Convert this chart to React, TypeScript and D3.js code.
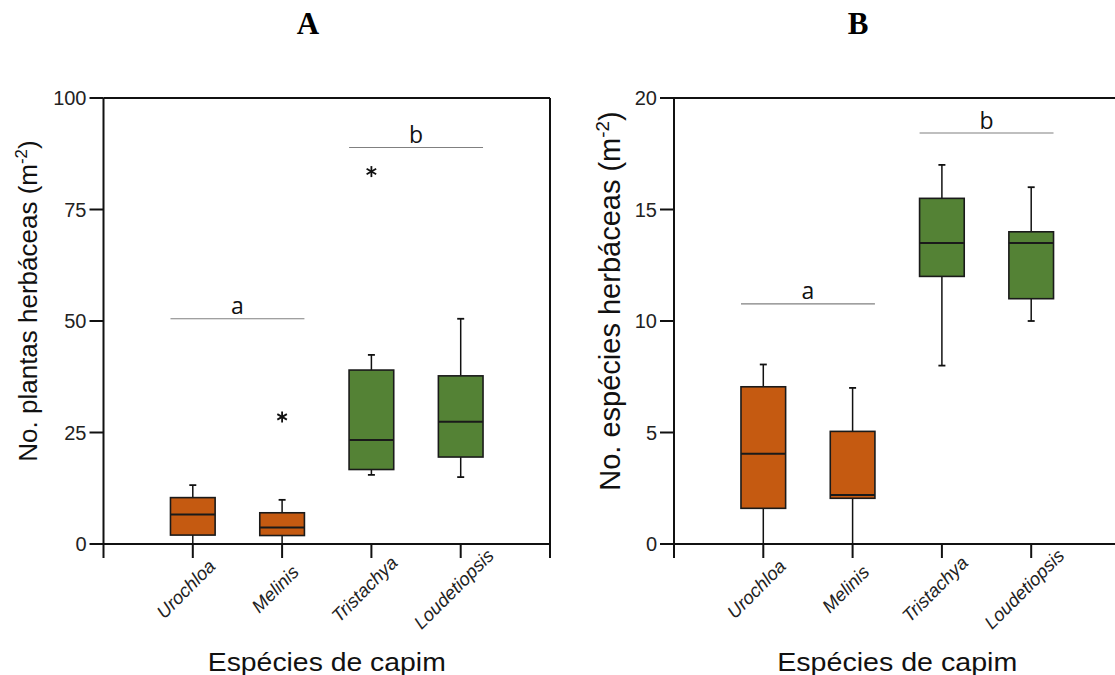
import React from "react";
import * as d3 from "d3";

const categories = ["Urochloa", "Melinis", "Tristachya", "Loudetiopsis"];
const boxColors = ["#C55A11", "#C55A11", "#548235", "#548235"];

// Panel A: No. plantas herbáceas
const plantsWhiskerLow = [0, 0, 15.5, 15.0];
const plantsQ1 = [2.0, 1.9, 16.7, 19.5];
const plantsMedian = [6.6, 3.7, 23.3, 27.4];
const plantsQ3 = [10.4, 7.0, 39.0, 37.7];
const plantsWhiskerHigh = [13.2, 9.9, 42.4, 50.5];
const plantsOutliers = [[], [28.5], [83.5], []];
const plantsTicks = [0, 25, 50, 75, 100];
const plantsSig = [
  { label: "a", from: 0, to: 1, y: 50.5 },
  { label: "b", from: 2, to: 3, y: 88.9 },
];

// Panel B: No. espécies herbáceas
const speciesWhiskerLow = [0, 0, 8, 10];
const speciesQ1 = [1.6, 2.05, 12, 11];
const speciesMedian = [4.05, 2.2, 13.5, 13.5];
const speciesQ3 = [7.05, 5.05, 15.5, 14];
const speciesWhiskerHigh = [8.05, 7.0, 17, 16];
const speciesOutliers = [[], [], [], []];
const speciesTicks = [0, 5, 10, 15, 20];
const speciesSig = [
  { label: "a", from: 0, to: 1, y: 10.77 },
  { label: "b", from: 2, to: 3, y: 18.43 },
];

const SANS = "'Liberation Sans', Arial, sans-serif";

function Panel(props) {
  const {
    left, right, top, bottom, domainMax, ticks, lo, q1, med, q3, hi, outliers, sig,
    title, titleX, yLabelMain, yLabelX, yLabelSize, xTitleLen,
  } = props;
  const x = d3.scalePoint().domain(categories).range([left, right]).padding(1);
  const y = d3.scaleLinear().domain([0, domainMax]).range([bottom, top]);
  const step = x.step();
  const hw = step * 0.25;
  const cap = 3.5;
  const tickLen = 14;
  const cx = (left + right) / 2;
  const axisColor = "#111";
  return (
    <g>
      <text x={titleX} y={34} textAnchor="middle" fontFamily="'Liberation Serif', 'Times New Roman', serif" fontWeight="bold" fontSize={31} fill="#000">{title}</text>
      {/* frame */}
      <line x1={left} x2={right} y1={top} y2={top} stroke={axisColor} strokeWidth={2} />
      <line x1={left} x2={right} y1={bottom} y2={bottom} stroke={axisColor} strokeWidth={2} />
      <line x1={left} x2={left} y1={top} y2={bottom + tickLen} stroke={axisColor} strokeWidth={2} />
      <line x1={right} x2={right} y1={top} y2={bottom + tickLen} stroke={axisColor} strokeWidth={2} />
      {/* y ticks */}
      {ticks.map((t) => (
        <g key={t}>
          <line x1={left - tickLen} x2={left} y1={y(t)} y2={y(t)} stroke={axisColor} strokeWidth={2} />
          <text x={left - tickLen - 3} y={y(t)} dy="0.35em" textAnchor="end" fontFamily={SANS} fontSize={20} fill="#222">{t}</text>
        </g>
      ))}
      {/* x ticks and labels */}
      {categories.map((c) => (
        <g key={c}>
          <line x1={x(c)} x2={x(c)} y1={bottom} y2={bottom + tickLen} stroke={axisColor} strokeWidth={2} />
          <text
            transform={`translate(${x(c) - 7},${589}) rotate(-45)`}
            textAnchor="middle"
            dy="0.35em"
            fontFamily={SANS}
            fontStyle="italic"
            fontSize={18.5}
            fill="#222"
          >{c}</text>
        </g>
      ))}
      {/* significance */}
      {sig.map((s) => {
        const x1 = x(categories[s.from]) - hw;
        const x2 = x(categories[s.to]) + hw;
        return (
          <g key={s.label}>
            <line x1={x1} x2={x2} y1={y(s.y)} y2={y(s.y)} stroke="#808080" strokeWidth={1.2} />
            <text x={(x1 + x2) / 2} y={y(s.y) - 4.5} textAnchor="middle" fontFamily="'Open Sans', 'Noto Sans', sans-serif" fontSize={23} fill="#111">{s.label}</text>
          </g>
        );
      })}
      {/* boxes */}
      {categories.map((c, i) => {
        const xc = x(c);
        return (
          <g key={c}>
            <line x1={xc} x2={xc} y1={y(q3[i])} y2={y(hi[i])} stroke="#111" strokeWidth={1.5} />
            <line x1={xc} x2={xc} y1={y(q1[i])} y2={y(lo[i])} stroke="#111" strokeWidth={1.5} />
            <line x1={xc - cap} x2={xc + cap} y1={y(hi[i])} y2={y(hi[i])} stroke="#111" strokeWidth={1.8} />
            {lo[i] > 0 && <line x1={xc - cap} x2={xc + cap} y1={y(lo[i])} y2={y(lo[i])} stroke="#111" strokeWidth={1.8} />}
            <rect x={xc - hw} y={y(q3[i])} width={2 * hw} height={y(q1[i]) - y(q3[i])} fill={boxColors[i]} stroke="#1a1a1a" strokeWidth={1.6} />
            <line x1={xc - hw} x2={xc + hw} y1={y(med[i])} y2={y(med[i])} stroke="#1a1a1a" strokeWidth={2} />
            {outliers[i].map((o, k) => {
              const oy = y(o);
              const r = 5.5;
              return (
                <g key={k} stroke="#111" strokeWidth={1.8}>
                  <line x1={xc} x2={xc} y1={oy - r} y2={oy + r} />
                  <line x1={xc - r * 0.87} x2={xc + r * 0.87} y1={oy - r * 0.5} y2={oy + r * 0.5} />
                  <line x1={xc - r * 0.87} x2={xc + r * 0.87} y1={oy + r * 0.5} y2={oy - r * 0.5} />
                </g>
              );
            })}
          </g>
        );
      })}
      {/* y label */}
      <text
        transform={`translate(${yLabelX},301) rotate(-90)`}
        textAnchor="middle"
        dy="0.35em"
        fontFamily={SANS}
        fontSize={yLabelSize}
        fill="#111"
      >
        <tspan>{yLabelMain}</tspan>
        <tspan dy={-yLabelSize * 0.38} fontSize={yLabelSize * 0.65}>-2</tspan>
        <tspan dy={yLabelSize * 0.38}>)</tspan>
      </text>
      {/* x title */}
      <text x={cx} y={670.5} textAnchor="middle" fontFamily={SANS} fontSize={25} fill="#111" textLength={xTitleLen} lengthAdjust="spacingAndGlyphs">Espécies de capim</text>
    </g>
  );
}

export default function App() {
  return (
    <svg width={1115} height={675} style={{ position: "absolute", left: 0, top: 0, background: "#fff" }}>
      <rect width={1115} height={675} fill="#fff" />
      <Panel
        left={103.5} right={550} top={98} bottom={544} domainMax={100} ticks={plantsTicks}
        lo={plantsWhiskerLow} q1={plantsQ1} med={plantsMedian} q3={plantsQ3} hi={plantsWhiskerHigh}
        outliers={plantsOutliers} sig={plantsSig} title="A" titleX={308}
        yLabelMain="No. plantas herbáceas (m" yLabelX={28} yLabelSize={26} xTitleLen={238}
      />
      <Panel
        left={674} right={1120.5} top={98} bottom={544} domainMax={20} ticks={speciesTicks}
        lo={speciesWhiskerLow} q1={speciesQ1} med={speciesMedian} q3={speciesQ3} hi={speciesWhiskerHigh}
        outliers={speciesOutliers} sig={speciesSig} title="B" titleX={858}
        yLabelMain="No. espécies herbáceas (m" yLabelX={610} yLabelSize={29} xTitleLen={240}
      />
    </svg>
  );
}
